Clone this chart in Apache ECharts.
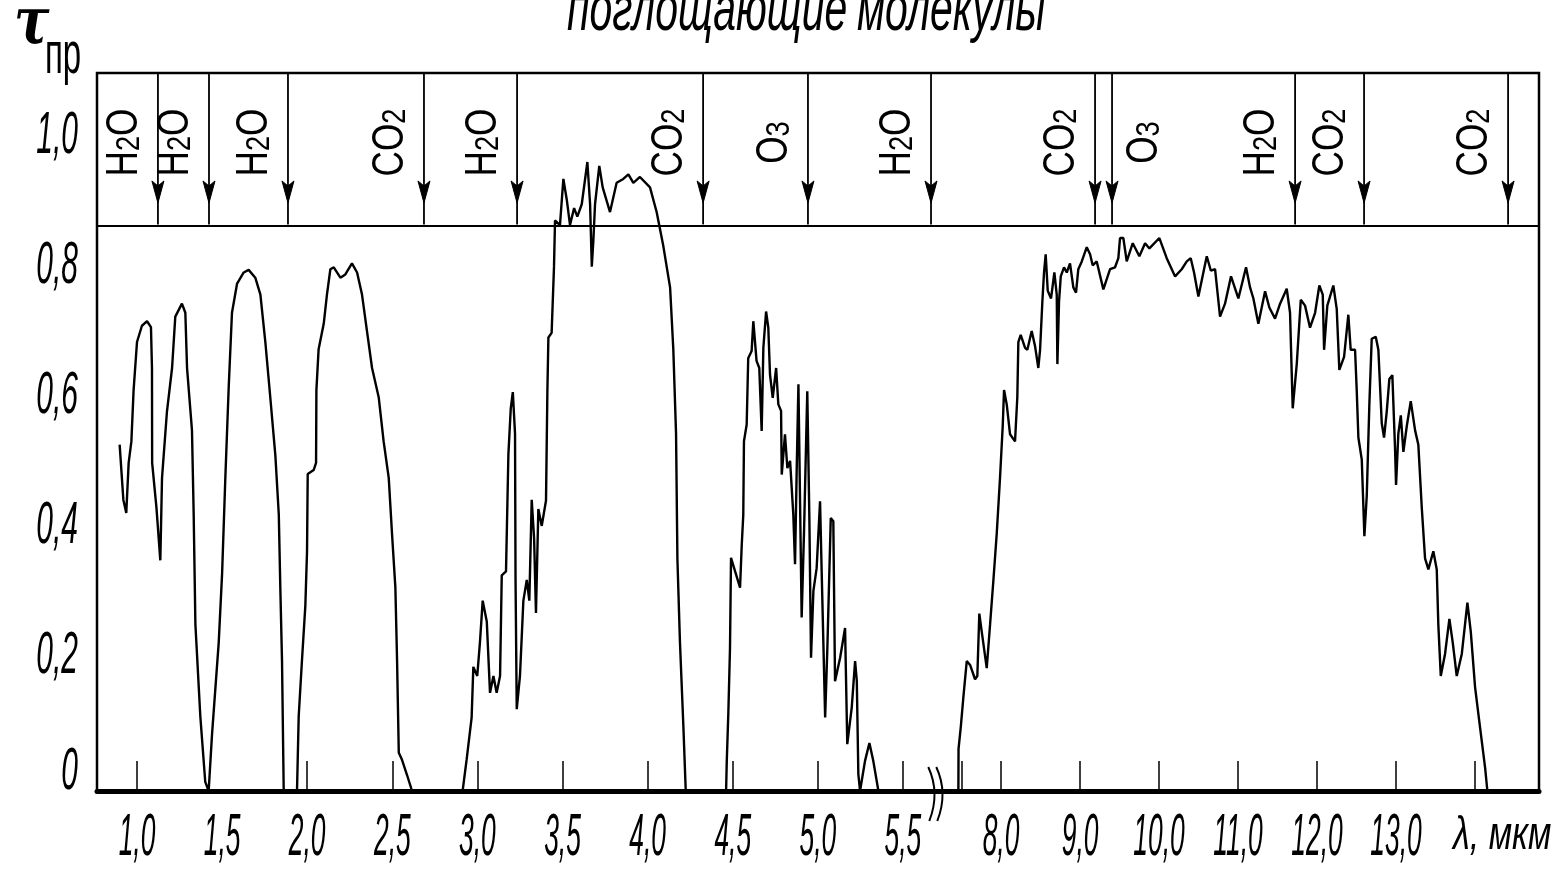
<!DOCTYPE html>
<html><head><meta charset="utf-8">
<script src="https://cdn.jsdelivr.net/npm/echarts@6/dist/echarts.min.js"></script>
<style>html,body{margin:0;padding:0;background:#fff}#c{width:1554px;height:879px}</style>
</head><body><div id="c"></div>
<script>
// ---- data (wavelength in µm, transmittance τ) ----
const lam1 = [0.898,0.92,0.937,0.951,0.967,0.98,1.0,1.029,1.059,1.082,1.088,1.089,1.114,1.137,1.147,1.176,1.206,1.225,1.264,1.284,1.294,1.323,1.333,1.343,1.372,1.401,1.421,1.441,1.48,1.5,1.519,1.539,1.558,1.588,1.627,1.656,1.695,1.725,1.754,1.783,1.813,1.833,1.842,1.852,1.862,1.94,1.95,1.969,1.989,1.999,2.003,2.038,2.052,2.054,2.067,2.097,2.116,2.136,2.156,2.195,2.224,2.263,2.293,2.322,2.351,2.381,2.42,2.449,2.479,2.498,2.518,2.528,2.538,2.557,2.586,2.616];
const tau1 = [0.533,0.448,0.428,0.505,0.538,0.617,0.691,0.716,0.723,0.714,0.651,0.505,0.437,0.355,0.482,0.584,0.651,0.730,0.750,0.736,0.651,0.555,0.426,0.257,0.115,0.014,0,0.088,0.228,0.335,0.482,0.623,0.736,0.781,0.798,0.802,0.790,0.764,0.691,0.606,0.516,0.426,0.313,0.2,0,0,0.115,0.2,0.285,0.369,0.488,0.494,0.505,0.617,0.68,0.719,0.764,0.803,0.806,0.790,0.795,0.812,0.798,0.764,0.708,0.651,0.606,0.538,0.482,0.397,0.313,0.2,0.059,0.048,0.025,0];
const lam2 = [2.913,2.937,2.966,2.976,2.999,3.015,3.031,3.055,3.074,3.094,3.113,3.133,3.143,3.168,3.182,3.196,3.208,3.221,3.224,3.231,3.25,3.27,3.29,3.305,3.319,3.333,3.344,3.358,3.378,3.403,3.411,3.417,3.436,3.45,3.456,3.485,3.505,3.525,3.544,3.568,3.587,3.613,3.646,3.662,3.672,3.681,3.691,3.716,3.736,3.779,3.818,3.857,3.887,3.916,3.955,4.014,4.053,4.092,4.132,4.151,4.167,4.175,4.19,4.21,4.224];
const tau2 = [0,0.049,0.113,0.191,0.177,0.229,0.293,0.261,0.151,0.177,0.151,0.177,0.332,0.338,0.518,0.589,0.614,0.550,0.325,0.126,0.177,0.293,0.325,0.293,0.448,0.389,0.274,0.434,0.408,0.447,0.614,0.698,0.705,0.807,0.878,0.871,0.942,0.910,0.871,0.897,0.884,0.903,0.968,0.903,0.807,0.846,0.903,0.962,0.929,0.891,0.936,0.942,0.949,0.936,0.945,0.929,0.891,0.839,0.775,0.679,0.550,0.357,0.229,0.1,0];
const lam3 = [4.461,4.465,4.474,4.484,4.49,4.514,4.543,4.553,4.562,4.566,4.582,4.591,4.611,4.621,4.64,4.656,4.67,4.68,4.696,4.709,4.719,4.735,4.755,4.768,4.784,4.788,4.807,4.821,4.837,4.856,4.866,4.876,4.886,4.905,4.919,4.938,4.95,4.96,4.974,4.993,5.013,5.023,5.043,5.056,5.076,5.091,5.101,5.131,5.16,5.173,5.199,5.219,5.229,5.238,5.248,5.277,5.303,5.326,5.356];
const tau3 = [0,0.046,0.118,0.220,0.359,0.338,0.313,0.379,0.425,0.538,0.564,0.666,0.677,0.723,0.662,0.651,0.554,0.682,0.738,0.713,0.641,0.605,0.651,0.595,0.585,0.487,0.549,0.497,0.508,0.425,0.349,0.497,0.626,0.267,0.4,0.615,0.425,0.205,0.308,0.343,0.446,0.333,0.113,0.220,0.420,0.415,0.169,0.205,0.251,0.072,0.128,0.2,0.169,0.026,0,0.046,0.074,0.046,0];
const lam4 = [7.46,7.462,7.49,7.523,7.566,7.608,7.671,7.7,7.725,7.756,7.819,7.861,7.903,7.946,7.987,8.021,8.038,8.072,8.114,8.177,8.206,8.219,8.249,8.304,8.333,8.388,8.43,8.472,8.494,8.523,8.544,8.565,8.591,8.633,8.675,8.705,8.713,8.734,8.756,8.797,8.832,8.873,8.915,8.949,8.978,9.022,9.085,9.127,9.16,9.211,9.295,9.38,9.443,9.485,9.506,9.548,9.591,9.667,9.751,9.823,9.878,10.004,10.097,10.203,10.287,10.351,10.401,10.443,10.498,10.561,10.604,10.655,10.709,10.772,10.835,10.911,11.004,11.101,11.152,11.194,11.257,11.342,11.396,11.468,11.532,11.616,11.658,11.68,11.692,11.743,11.794,11.848,11.911,11.975,12.029,12.072,12.089,12.13,12.206,12.249,12.282,12.342,12.396,12.426,12.481,12.502,12.523,12.566,12.599,12.629,12.662,12.692,12.743,12.776,12.819,12.848,12.882,12.915,12.953,12.987,13.0,13.029,13.06,13.093,13.135,13.186,13.241,13.282,13.325,13.367,13.409,13.472,13.515,13.535,13.566,13.62,13.675,13.718,13.768,13.832,13.903,13.946,14.0,14.063,14.127,14.156];
const tau4 = [0,0.065,0.098,0.144,0.2,0.194,0.172,0.177,0.273,0.245,0.189,0.256,0.324,0.397,0.482,0.561,0.617,0.595,0.549,0.538,0.606,0.691,0.702,0.682,0.679,0.708,0.685,0.651,0.679,0.753,0.798,0.826,0.770,0.758,0.798,0.764,0.657,0.753,0.792,0.806,0.798,0.812,0.775,0.767,0.803,0.815,0.837,0.826,0.809,0.815,0.772,0.803,0.806,0.820,0.851,0.851,0.815,0.843,0.823,0.843,0.835,0.851,0.820,0.792,0.803,0.815,0.820,0.798,0.761,0.798,0.823,0.801,0.803,0.730,0.750,0.792,0.758,0.806,0.775,0.758,0.719,0.769,0.744,0.727,0.750,0.773,0.736,0.640,0.589,0.657,0.756,0.747,0.713,0.736,0.778,0.764,0.679,0.747,0.778,0.742,0.648,0.668,0.733,0.679,0.679,0.617,0.544,0.510,0.392,0.454,0.595,0.696,0.699,0.679,0.566,0.544,0.584,0.634,0.640,0.527,0.471,0.550,0.578,0.522,0.561,0.600,0.555,0.533,0.437,0.358,0.341,0.369,0.341,0.256,0.177,0.211,0.265,0.228,0.177,0.211,0.290,0.245,0.160,0.098,0.036,0];

// absorbing molecules (arrow positions, µm)
const arrowLam = [1.123,1.423,1.887,2.686,3.233,4.326,4.942,5.665,9.19,9.405,11.722,12.595,14.418];
const molecules = ['H₂O','H₂O','H₂O','CO₂','H₂O','CO₂','O₃','H₂O','CO₂','O₃','H₂O','CO₂','CO₂'];
const labelSide = [-1,-1,-1,-1,-1,-1,-1,-1,-1,1,-1,-1,-1];

// axis ticks / labels
const xLabelLam = [1.0,1.5,2.0,2.5,3.0,3.5,4.0,4.5,5.0,5.5,8,9,10,11,12,13];
const xLabelText = ['1,0','1,5','2,0','2,5','3,0','3,5','4,0','4,5','5,0','5,5','8,0','9,0','10,0','11,0','12,0','13,0'];
const xTickLam = [1.0,2.0,2.5,3.0,3.5,4.0,4.5,5.0,5.5,7.5,8,9,10,11,12,13,14];
const yTickValues = [0,0.2,0.4,0.6,0.8,1.0];
const yTickText = ['0','0,2','0,4','0,6','0,8','1,0'];
const bandLevel = 0.872, arrowTipLevel = 0.905, labelLevel = 0.998;
const breakLam = 5.69;

// broken axis: 0.9–5.7 µm on one scale, 7.2–14.4 µm on a compressed scale
function xu(l){ return l <= 6 ? l : 6.0764 + (l - 8) * 0.46416; }
const U_MIN = 0.765, U_MAX = 9.237, Y_MAX = 1.105;

const curve = [];
[[lam1,tau1],[lam2,tau2],[lam3,tau3],[lam4,tau4]].forEach(([L,T]) => L.forEach((l,i) => curve.push([xu(l), T[i]])));

const FONT = '"Liberation Sans", Arimo, sans-serif';
const richFormula = s => s.replace(/([^₂₃]+)/g, '{b|$1}').replace(/₂/g, '{s|2}').replace(/₃/g, '{s|3}');

const chart = echarts.init(document.getElementById('c'), null, {renderer:'canvas'});
chart.setOption({
  animation: false,
  backgroundColor: '#fff',
  grid: {left: 97, right: 15, top: 73, bottom: 88, show: true, borderColor: '#000', borderWidth: 2.5, backgroundColor: 'transparent'},
  xAxis: {
    type: 'value', min: U_MIN, max: U_MAX,
    axisLine: {show: true, onZero: false, lineStyle: {color: '#000', width: 5}},
    axisTick: {show: true, inside: true, length: 30, lineStyle: {color: '#000', width: 1.5}, customValues: xTickLam.map(xu)},
    axisLabel: {show: false},
    splitLine: {show: false}
  },
  yAxis: {
    type: 'value', min: 0, max: Y_MAX,
    axisLine: {show: false}, axisTick: {show: false}, splitLine: {show: false},
    axisLabel: {show: false}
  },
  series: [
    {
      type: 'line', data: curve, showSymbol: false, symbol: 'none', z: 3,
      lineStyle: {color: '#000', width: 2.4}, clip: true,
      markLine: {silent: true, symbol: 'none', label: {show: false},
        lineStyle: {color: '#000', width: 2, type: 'solid'}, data: [{yAxis: bandLevel}]}
    },
    { // molecule arrows + labels
      type: 'custom', z: 4, clip: false,
      data: arrowLam.map(l => [xu(l), labelLevel]),
      renderItem: (params, api) => {
        const u = api.value(0);
        const p = api.coord([u, api.value(1)]);
        const x = p[0];
        const yTop = api.coord([u, Y_MAX])[1];
        const yBand = api.coord([u, bandLevel])[1];
        const yTip = api.coord([u, arrowTipLevel])[1];
        const i = params.dataIndex;
        return {type: 'group', children: [
          {type: 'line', shape: {x1: x, y1: yTop, x2: x, y2: yBand}, style: {stroke: '#000', lineWidth: 1.8}},
          {type: 'polygon', shape: {points: [[x - 6, yTip - 22], [x, yTip - 17], [x + 6, yTip - 22], [x, yTip]]}, style: {fill: '#000', stroke: '#000', lineWidth: 1}},
          {type: 'text', x: x + labelSide[i] * 33, y: p[1], rotation: Math.PI / 2, scaleX: 0.8,
            style: {text: richFormula(molecules[i]), fill: '#000', align: 'center', verticalAlign: 'middle',
              rich: {b: {fontSize: 44, fontFamily: FONT, fill: '#000'},
                     s: {fontSize: 34, fontFamily: FONT, fill: '#000', verticalAlign: 'bottom'}}}}
        ]};
      }
    },
    { // axis break mark
      type: 'custom', z: 5, clip: false,
      data: [[xu(breakLam), 0]],
      renderItem: (params, api) => {
        const p = api.coord([api.value(0), api.value(1)]);
        const x = p[0], y = p[1];
        const mk = dx => ({type: 'bezierCurve',
          shape: {x1: x + dx - 3, y1: y - 24, x2: x + dx - 2, y2: y + 30, cpx1: x + dx + 9, cpy1: y + 2},
          style: {stroke: '#000', fill: null, lineWidth: 2}});
        return {type: 'group', children: [mk(-4), mk(4)]};
      }
    },
    { // x tick labels (condensed italic, as in the drawing)
      type: 'custom', z: 5, clip: false,
      data: xLabelLam.map(l => [xu(l), 0]),
      renderItem: (params, api) => {
        const p = api.coord([api.value(0), api.value(1)]);
        return {type: 'text', x: p[0], y: p[1] + 47, scaleX: 0.44,
          style: {text: xLabelText[params.dataIndex], fill: '#000', font: 'italic 60px ' + FONT,
            align: 'center', verticalAlign: 'middle'}};
      }
    },
    { // y tick labels
      type: 'custom', z: 5, clip: false,
      data: yTickValues.map(v => [U_MIN, v]),
      renderItem: (params, api) => {
        const v = api.value(1);
        const p = api.coord([api.value(0), v]);
        return {type: 'text', x: p[0] - 19, y: p[1] - (v === 0 ? 19 : 5), scaleX: 0.5,
          style: {text: yTickText[params.dataIndex], fill: '#000', font: 'italic 60px ' + FONT,
            align: 'right', verticalAlign: 'middle'}};
      }
    }
  ],
  graphic: [
    {type: 'text', x: 567, y: 12, scaleX: 0.64, style: {text: 'поглощающие', font: 'italic 64px ' + FONT, fill: '#000', align: 'left', verticalAlign: 'middle'}},
    {type: 'text', x: 857, y: 12, scaleX: 0.64, style: {text: 'молекулы', font: 'italic 64px ' + FONT, fill: '#000', align: 'left', verticalAlign: 'middle'}},
    {type: 'text', x: 14, y: 26, scaleX: 0.8, style: {text: 'τ', font: 'italic bold 66px "DejaVu Serif", serif', fill: '#000', align: 'left', verticalAlign: 'middle'}},
    {type: 'text', x: 45, y: 56, scaleX: 0.55, style: {text: 'пр', font: '60px ' + FONT, fill: '#000', align: 'left', verticalAlign: 'middle'}},
    {type: 'text', x: 1453, y: 836, scaleX: 0.74, style: {text: 'λ, мкм', font: 'italic 46px ' + FONT, fill: '#000', align: 'left', verticalAlign: 'middle'}}
  ]
});
</script></body></html>
